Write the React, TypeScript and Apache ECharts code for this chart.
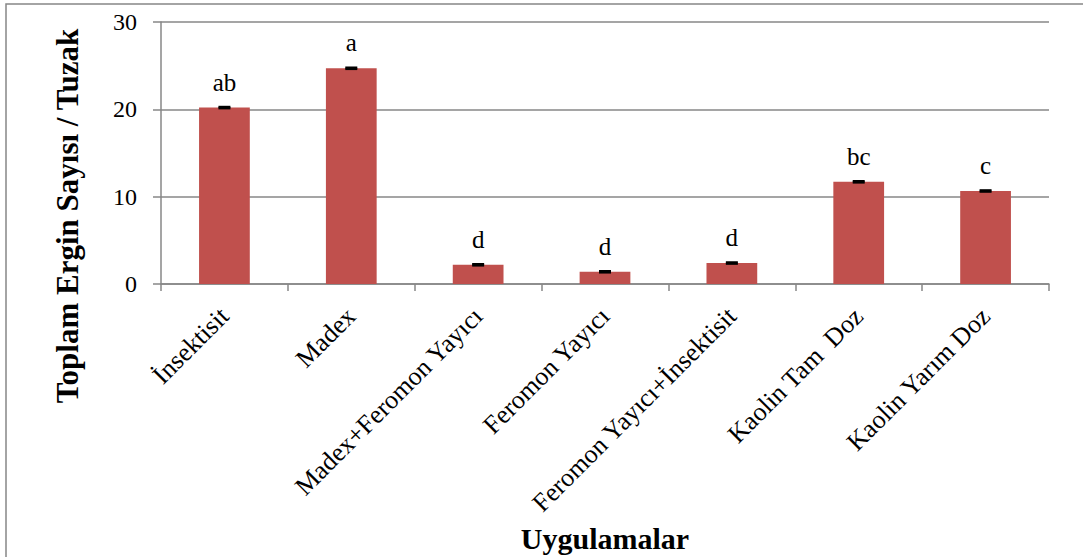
import React, { useEffect, useRef } from "react";
import * as echarts from "echarts";

// Treatments (Uygulamalar)
const categories = [
  "İnsektisit",
  "Madex",
  "Madex+Feromon Yayıcı",
  "Feromon Yayıcı",
  "Feromon Yayıcı+İnsektisit",
  "Kaolin Tam  Doz",
  "Kaolin Yarım Doz",
];

// Mean total adults per trap
const means = [20.2, 24.7, 2.2, 1.4, 2.4, 11.7, 10.65];

// Standard error of each mean
const errors = [0.08, 0.08, 0.08, 0.08, 0.08, 0.08, 0.08];

// Significance group letters
const letters = ["ab", "a", "d", "d", "d", "bc", "c"];

const yTicks = [0, 10, 20, 30];

const FONT = "Liberation Serif";
const GREY = "#878787";

export default function App() {
  const ref = useRef<HTMLDivElement>(null);

  useEffect(() => {
    if (!ref.current) return;
    const chart = echarts.init(ref.current, null, { renderer: "svg" });

    const option: any = {
      animation: false,
      backgroundColor: "#ffffff",
      textStyle: { fontFamily: FONT },
      grid: { left: 161, right: 34, top: 22, bottom: 273, containLabel: false },
      xAxis: {
        type: "category",
        data: categories,
        boundaryGap: true,
        axisLine: { show: true, lineStyle: { color: GREY, width: 1.5 } },
        axisTick: { show: true, length: 7, lineStyle: { color: GREY, width: 1.5 } },
        axisLabel: {
          rotate: 45,
          margin: 28,
          interval: 0,
          fontFamily: FONT,
          fontSize: 26,
          color: "#000",
        },
      },
      yAxis: {
        type: "value",
        min: yTicks[0],
        max: yTicks[yTicks.length - 1],
        interval: 10,
        axisLine: { show: true, lineStyle: { color: GREY, width: 1.5 } },
        axisTick: { show: true, length: 8, lineStyle: { color: GREY, width: 1.5 } },
        splitLine: { show: true, lineStyle: { color: GREY, width: 1.5 } },
        axisLabel: { margin: 24, fontFamily: FONT, fontSize: 24, color: "#000" },
      },
      graphic: [
        {
          type: "rect",
          shape: { x: 6, y: 4, width: 1300, height: 800 },
          style: { fill: "none", stroke: GREY, lineWidth: 1.5 },
          silent: true,
        },
        {
          type: "text",
          x: 67,
          y: 216,
          rotation: Math.PI / 2,
          style: {
            text: "Toplam Ergin Sayısı / Tuzak",
            font: `bold 31px "${FONT}"`,
            fill: "#000",
            align: "center",
            verticalAlign: "middle",
          },
        },
        {
          type: "text",
          x: 605,
          y: 538,
          style: {
            text: "Uygulamalar",
            font: `bold 30px "${FONT}"`,
            fill: "#000",
            align: "center",
            verticalAlign: "middle",
          },
        },
      ],
      series: [
        {
          type: "bar",
          data: means,
          barWidth: "40%",
          itemStyle: { color: "#C0504D" },
          label: {
            show: true,
            position: "top",
            distance: 13,
            fontFamily: FONT,
            fontSize: 25,
            color: "#000",
            formatter: (p: any) => letters[p.dataIndex],
          },
          z: 2,
        },
        {
          type: "custom",
          data: means.map((m, i) => [i, m, errors[i]]),
          z: 3,
          renderItem: (params: any, api: any) => {
            const i = api.value(0);
            const m = api.value(1);
            const e = api.value(2);
            const top = api.coord([i, m + e]);
            const bot = api.coord([i, m - e]);
            const half = 6;
            const style = { stroke: "#000", lineWidth: 2.2 };
            return {
              type: "group",
              children: [
                { type: "line", shape: { x1: top[0], y1: top[1], x2: bot[0], y2: bot[1] }, style },
                { type: "line", shape: { x1: top[0] - half, y1: top[1], x2: top[0] + half, y2: top[1] }, style },
                { type: "line", shape: { x1: bot[0] - half, y1: bot[1], x2: bot[0] + half, y2: bot[1] }, style },
              ],
            };
          },
        },
      ],
    };

    chart.setOption(option);
    return () => chart.dispose();
  }, []);

  return (
    <div
      ref={ref}
      style={{ position: "fixed", left: 0, top: 0, width: 1083, height: 557, background: "#fff" }}
    />
  );
}
